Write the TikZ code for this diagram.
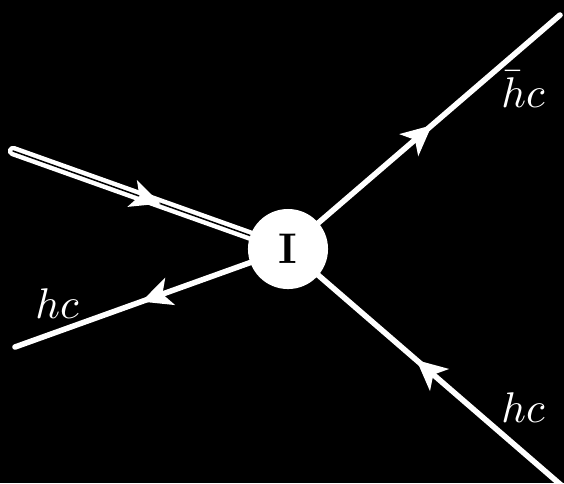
\documentclass[tikz,border=0pt]{standalone}
\usetikzlibrary{arrows.meta, decorations.markings, positioning}
\begin{document}
\begin{tikzpicture}[x=0.0082cm, y=-0.0082cm,
  >={Stealth[length=7pt, width=6.6pt, inset=1.8pt]},
  line/.style={draw=white, line width=1.3pt, line cap=round},
  dline/.style={draw=white, double=black, line width=1.05pt, double distance=0.35pt, line cap=round},
  midarrow/.style={postaction={decorate}, decoration={markings, mark=at position 0.5 with {\arrow[white, xshift=2.5pt]{>}}}},
  blob/.style={circle, fill=white, minimum size=0.656cm, inner sep=0pt},
  lbl/.style={text=white, anchor=base}]
  \useasboundingbox (0,0) rectangle (564,483);
  \fill[black] (0,0) rectangle (564,483);

  \coordinate (v) at (288,249);
  \coordinate (inb) at (13,151);
  \coordinate (outl) at (15,347);
  \coordinate (outr) at (560,15);
  \coordinate (inr) at (561,485);

  \draw[dline] (inb) -- (v);
  \path[midarrow] (inb) -- (v);
  \draw[line, midarrow] (v) -- (outl);
  \draw[line, midarrow] (v) -- (outr);
  \draw[line, midarrow] (inr) -- (v);

  \node[blob] (vertex) at (v) {\textbf{I}};

  \node[lbl] (hcleft) at (57,318) {$hc$};
  \node[lbl] (hcbar) at (523,107) {$\bar{h}c$};
  \node[lbl] (hcright) at (523,422) {$hc$};
\end{tikzpicture}
\end{document}
